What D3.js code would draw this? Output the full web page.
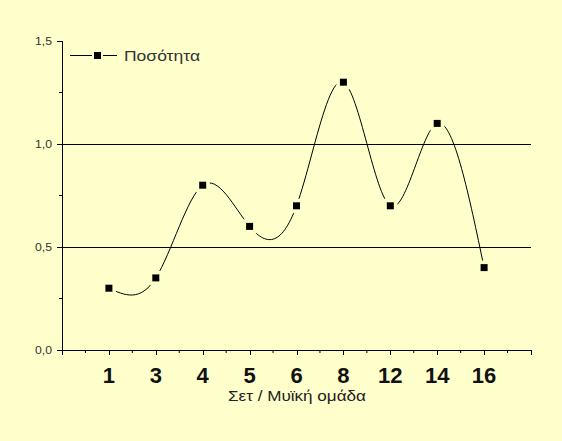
<!DOCTYPE html>
<html>
<head>
<meta charset="utf-8">
<script src="https://cdn.jsdelivr.net/npm/d3@7"></script>
<style>
  body { margin: 0; background: #ffffcc; }
  text { font-family: Arial, "Liberation Sans", sans-serif; }
</style>
</head>
<body>
<div class="chart"></div>
<script>
// data
const categories = ["1", "3", "4", "5", "6", "8", "12", "14", "16"];
const quantity = [0.3, 0.35, 0.8, 0.6, 0.7, 1.3, 0.7, 1.1, 0.4];
const yTicks = [0, 0.5, 1.0, 1.5];
const gridValues = [0.5, 1.0];
const seriesName = "Ποσότητα";
const xTitle = "Σετ / Μυϊκή ομάδα";

const width = 562;
const height = 441;
const plotLeft = 62, plotRight = 531, plotTop = 41, plotBottom = 350;
const bg = "#ffffcc";

const svg = d3.select(".chart").append("svg")
  .attr("width", width)
  .attr("height", height)
  .style("display", "block")
  .style("background", bg);

const x = d3.scaleLinear().domain([0, categories.length + 1]).range([plotLeft, plotRight]);
const y = d3.scaleLinear().domain([0, 1.5]).range([plotBottom, plotTop]);

// gridlines
svg.append("g")
  .selectAll("line")
  .data(gridValues)
  .join("line")
  .attr("x1", plotLeft).attr("x2", plotRight)
  .attr("y1", d => y(d)).attr("y2", d => y(d))
  .attr("stroke", "#000").attr("stroke-width", 1)
  .attr("shape-rendering", "crispEdges");

// y axis
const yAxis = svg.append("g")
  .attr("transform", `translate(${plotLeft},0)`)
  .call(d3.axisLeft(y).tickValues(yTicks).tickSize(5).tickPadding(5)
    .tickFormat(d => d3.format(".1f")(d).replace(".", ",")));
yAxis.append("g").selectAll("line")
  .data([0.25, 0.75, 1.25])
  .join("line")
  .attr("x1", -3).attr("x2", 0)
  .attr("y1", d => y(d)).attr("y2", d => y(d))
  .attr("stroke", "#000");
yAxis.select(".domain").attr("d", `M-5,${plotTop}H0V${plotBottom}`);
yAxis.selectAll("text")
  .attr("font-size", 11)
  .attr("fill", "#333")
  .attr("font-family", "Arial, sans-serif")
  .attr("textLength", 17)
  .attr("lengthAdjust", "spacingAndGlyphs");

// x axis
const xMajor = d3.range(0, categories.length + 2);
const xAxis = svg.append("g")
  .attr("transform", `translate(0,${plotBottom})`)
  .call(d3.axisBottom(x).tickValues(xMajor).tickSize(5).tickFormat(""));
xAxis.select(".domain").attr("d", `M${plotLeft - 5},0H${plotRight}`);
xAxis.append("g").selectAll("line")
  .data(xMajor.slice(0, -1).map(d => d + 0.5))
  .join("line")
  .attr("x1", d => x(d)).attr("x2", d => x(d))
  .attr("y1", 0).attr("y2", 3)
  .attr("stroke", "#000");
svg.selectAll(".domain, .tick line").attr("shape-rendering", "crispEdges");

svg.append("g").selectAll("text")
  .data(categories)
  .join("text")
  .attr("x", (d, i) => x(i + 1))
  .attr("y", 383)
  .attr("text-anchor", "middle")
  .attr("font-size", 22)
  .attr("font-weight", "bold")
  .attr("fill", "#111")
  .text(d => d);

svg.append("text")
  .attr("x", 228)
  .attr("y", 401)
  .attr("font-size", 15)
  .attr("fill", "#222")
  .attr("textLength", 138)
  .attr("lengthAdjust", "spacingAndGlyphs")
  .text(xTitle);

// smoothed line
const line = d3.line()
  .x((d, i) => x(i + 1))
  .y(d => y(d))
  .curve(d3.curveNatural);

svg.append("path")
  .datum(quantity)
  .attr("d", line)
  .attr("fill", "none")
  .attr("stroke", "#000")
  .attr("stroke-width", 1);

// markers with a background halo that breaks the line around them
svg.append("g").selectAll("rect")
  .data(quantity)
  .join("rect")
  .attr("x", (d, i) => x(i + 1) - 3.5)
  .attr("y", d => y(d) - 3.5)
  .attr("width", 7).attr("height", 7)
  .attr("fill", "#000")
  .attr("stroke", bg)
  .attr("stroke-width", 7)
  .attr("paint-order", "stroke");

// legend
const legend = svg.append("g");
legend.append("line")
  .attr("x1", 70).attr("x2", 117).attr("y1", 55.5).attr("y2", 55.5)
  .attr("stroke", "#000");
legend.append("rect")
  .attr("x", 94).attr("y", 52).attr("width", 7).attr("height", 7)
  .attr("fill", "#000").attr("stroke", bg).attr("stroke-width", 4)
  .attr("paint-order", "stroke");
legend.append("text")
  .attr("x", 124).attr("y", 61)
  .attr("font-size", 15)
  .attr("fill", "#333")
  .attr("textLength", 76)
  .attr("lengthAdjust", "spacingAndGlyphs")
  .text(seriesName);
</script>
</body>
</html>
